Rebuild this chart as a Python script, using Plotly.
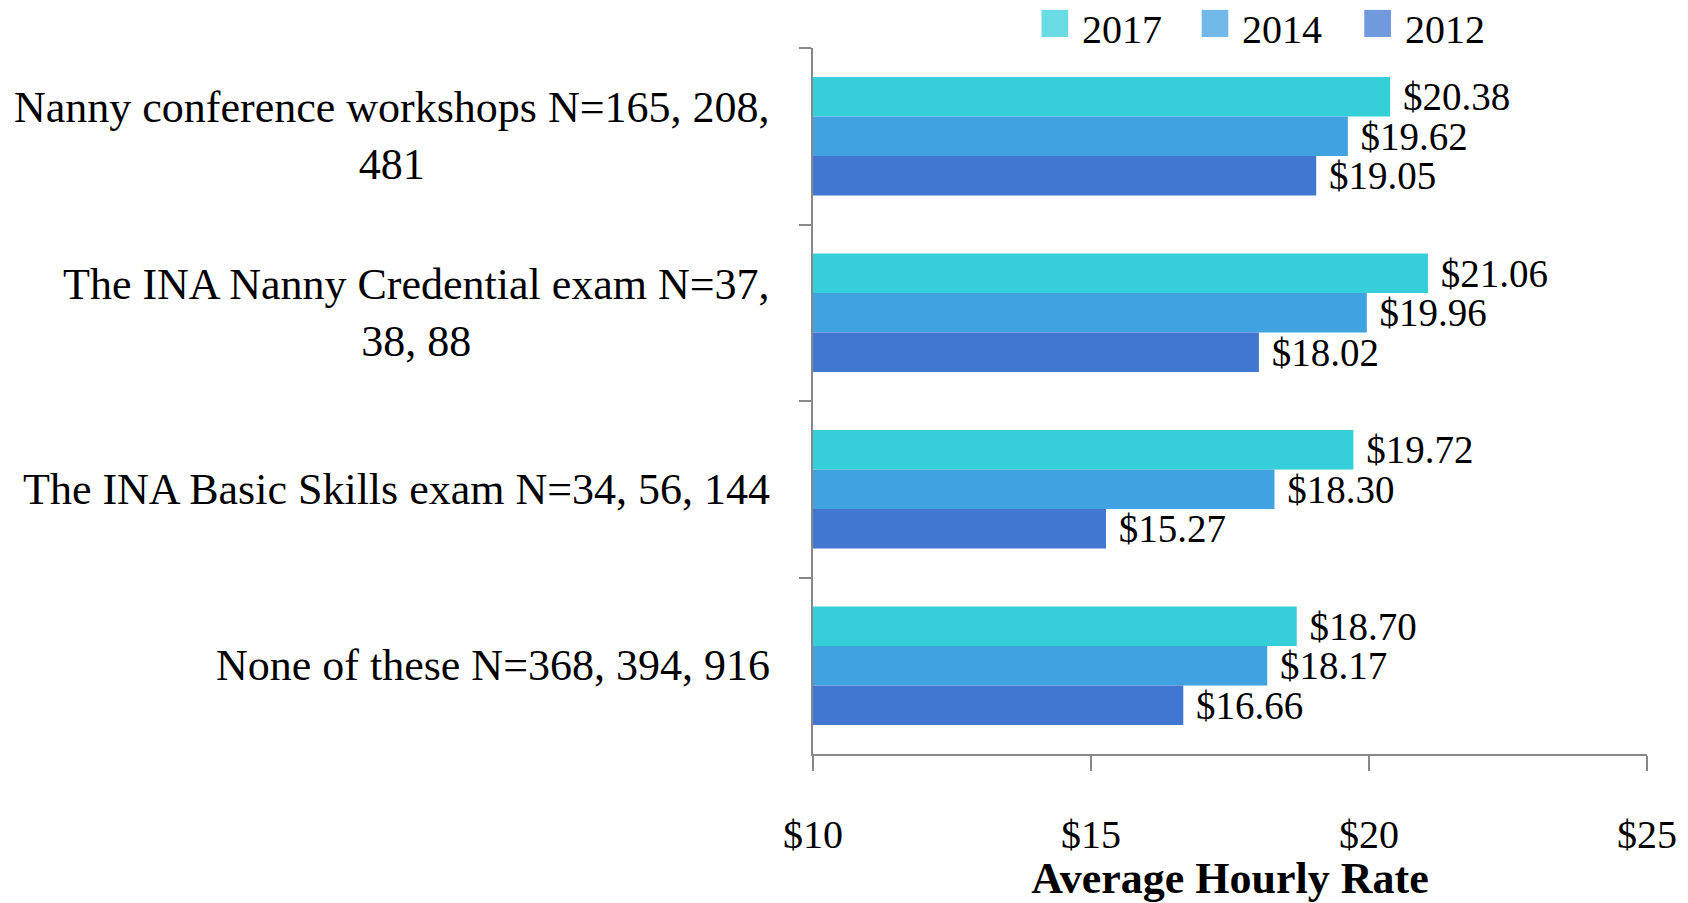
import plotly.graph_objects as go

categories = [
    "Nanny conference workshops N=165, 208,<br>481",
    "The INA Nanny Credential exam N=37,<br>38, 88",
    "The INA Basic Skills exam N=34, 56, 144",
    "None of these N=368, 394, 916",
]
years = ["2017", "2014", "2012"]
values_2017 = [20.38, 21.06, 19.72, 18.70]
values_2014 = [19.62, 19.96, 18.30, 18.17]
values_2012 = [19.05, 18.02, 15.27, 16.66]
x_ticks = [10, 15, 20, 25]

series = [values_2017, values_2014, values_2012]
colors = ["#35cfda", "#40a2e0", "#4277d1"]
FONT = "Liberation Serif"

fig = go.Figure()
for yr, vals, col in zip(years, series, colors):
    fig.add_trace(go.Bar(
        y=categories, x=vals, name=yr, orientation="h",
        marker=dict(color=col, line=dict(width=0)),
        text=[f"\u00a0${v:.2f}" for v in vals], textposition="outside",
        textfont=dict(family=FONT, size=39, color="black"),
        constraintext="none",
        cliponaxis=False, showlegend=False,
    ))

for c in categories:
    fig.add_annotation(x=-0.049, xref="paper", y=c, yref="y", text=c,
                       xanchor="right", align="center", showarrow=False,
                       font=dict(family=FONT, size=44, color="black"))

# custom legend (large swatches) — positions in paper coordinates
leg_x = [0.274, 0.466, 0.661]
for yr, col, lx in zip(years, colors, leg_x):
    fig.add_shape(type="rect", xref="paper", yref="paper",
                  x0=lx, x1=lx + 0.032, y0=1.0156, y1=1.054,
                  fillcolor=col, line=dict(width=0), opacity=0.75)
    fig.add_annotation(x=lx + 0.046, xref="paper", y=1.026, yref="paper",
                       text=yr, xanchor="left", yanchor="middle", showarrow=False,
                       font=dict(family=FONT, size=40, color="black"))

# page body has an 8px margin; compensate so the plot lands where the reference has it
fig.update_layout(
    width=1680, height=895,
    margin=dict(l=805, r=41, t=40, b=149, autoexpand=False),
    paper_bgcolor="white", plot_bgcolor="white",
    barmode="group", bargap=0.33, bargroupgap=0,
    showlegend=False,
    font=dict(family=FONT, color="black"),
)
fig.update_xaxes(range=[10, 25], tickmode="array", tickvals=x_ticks,
                 ticktext=[f"${t}" for t in x_ticks],
                 showgrid=False, showline=True, linecolor="#888", linewidth=2,
                 ticks="outside", ticklen=15, tickcolor="#888", tickwidth=2,
                 tickfont=dict(family=FONT, size=40), ticklabelstandoff=29,
                 title=dict(text="<b>Average Hourly Rate</b>", font=dict(family=FONT, size=44), standoff=13),
                 zeroline=False)
fig.update_yaxes(autorange="reversed", showticklabels=False, showgrid=False,
                 showline=True, linecolor="#888", linewidth=2,
                 ticks="outside", ticklen=12, tickcolor="#888", tickwidth=2,
                 tickson="boundaries")

fig.write_html("out.html")
